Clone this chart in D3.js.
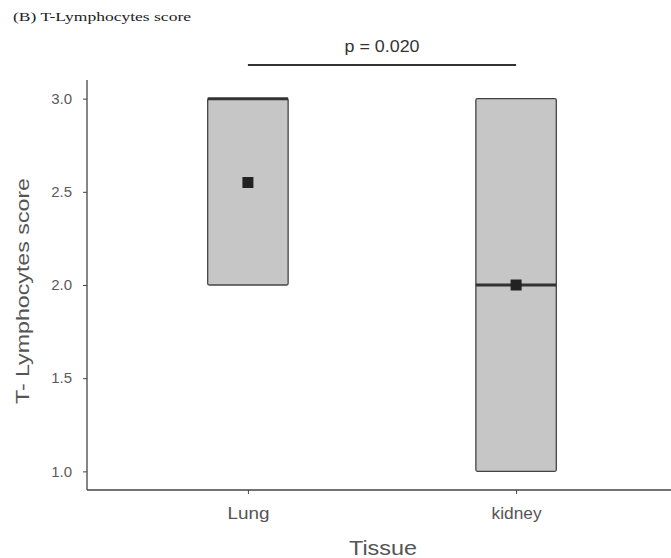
<!DOCTYPE html>
<html>
<head>
<meta charset="utf-8">
<script src="https://cdn.jsdelivr.net/npm/d3@7"></script>
<style>
  body { margin: 0; background: #fff; }
  svg { display: block; }
</style>
</head>
<body>
<div id="chart"></div>
<script>
// data
const tissues = ["Lung", "kidney"];
const q1 = [2.0, 1.0];
const medians = [3.0, 2.0];
const q3 = [3.0, 3.0];
const means = [2.55, 2.0];
const yTicks = [1.0, 1.5, 2.0, 2.5, 3.0];
const pLabel = "p = 0.020";

function main() {
    const width = 671;
    const height = 558;

    const svg = d3.select("#chart").append("svg")
        .attr("width", width)
        .attr("height", height)
        .style("font-family", "'Liberation Sans', Arial, sans-serif");

    // ggplot-like discrete scale: positions 1..n, 0.6 expansion each side
    const xScale = d3.scaleLinear()
        .domain([0.4, 2.6])
        .range([87, 677]);

    const yScale = d3.scaleLinear()
        .domain([0.9, 3.1])
        .range([490, 80]);

    const boxHalf = 0.15;

    // title
    svg.append("text")
        .attr("x", 13)
        .attr("y", 21)
        .attr("font-family", "'Liberation Serif', 'Times New Roman', serif")
        .attr("font-size", "13px")
        .attr("fill", "#222")
        .attr("textLength", 178)
        .attr("lengthAdjust", "spacingAndGlyphs")
        .text("(B) T-Lymphocytes score");

    // boxes
    const g = svg.append("g");
    tissues.forEach((t, i) => {
        const pos = i + 1;
        g.append("rect")
            .attr("x", xScale(pos - boxHalf))
            .attr("y", yScale(q3[i]))
            .attr("width", xScale(pos + boxHalf) - xScale(pos - boxHalf))
            .attr("height", yScale(q1[i]) - yScale(q3[i]))
            .attr("rx", 1.5)
            .attr("fill", "#c6c6c6")
            .attr("stroke", "#444")
            .attr("stroke-width", 1.3);

        g.append("line")
            .attr("x1", xScale(pos - boxHalf))
            .attr("x2", xScale(pos + boxHalf))
            .attr("y1", yScale(medians[i]))
            .attr("y2", yScale(medians[i]))
            .attr("stroke", "#333")
            .attr("stroke-width", 3);

        const s = 11;
        g.append("rect")
            .attr("x", xScale(pos) - s / 2)
            .attr("y", yScale(means[i]) - s / 2)
            .attr("width", s)
            .attr("height", s)
            .attr("fill", "#222");
    });

    // y axis
    const yAxis = svg.append("g")
        .attr("transform", "translate(87,0)")
        .call(d3.axisLeft(yScale)
            .tickValues(yTicks)
            .tickFormat(d3.format(".1f"))
            .tickSize(4)
            .tickPadding(11));
    yAxis.select(".domain").attr("d", "M0,80V490").attr("stroke", "#444").attr("stroke-width", 1.3);
    yAxis.selectAll(".tick line").attr("stroke", "#444");
    yAxis.selectAll(".tick text")
        .attr("font-size", "15px")
        .attr("fill", "#5a5a5a")
        .attr("font-family", "'Liberation Sans', Arial, sans-serif");

    // x axis
    const xLabelLen = [42, 50];
    const xAxis = svg.append("g")
        .attr("transform", "translate(0,490)")
        .call(d3.axisBottom(xScale)
            .tickValues([1, 2])
            .tickFormat((d) => tissues[d - 1])
            .tickSize(4)
            .tickPadding(14));
    xAxis.select(".domain").attr("d", "M87,0H677").attr("stroke", "#444").attr("stroke-width", 1.3);
    xAxis.selectAll(".tick line").attr("stroke", "#444");
    xAxis.selectAll(".tick text")
        .attr("font-size", "16px")
        .attr("fill", "#555")
        .attr("textLength", (d) => xLabelLen[d - 1])
        .attr("lengthAdjust", "spacingAndGlyphs")
        .attr("font-family", "'Liberation Sans', Arial, sans-serif");

    // axis titles
    svg.append("text")
        .attr("transform", "translate(29,291) rotate(-90)")
        .attr("text-anchor", "middle")
        .attr("font-size", "19px")
        .attr("fill", "#555")
        .attr("textLength", 226)
        .attr("lengthAdjust", "spacingAndGlyphs")
        .text("T- Lymphocytes score");

    svg.append("text")
        .attr("x", 383)
        .attr("y", 555)
        .attr("text-anchor", "middle")
        .attr("font-size", "20px")
        .attr("fill", "#555")
        .attr("textLength", 68)
        .attr("lengthAdjust", "spacingAndGlyphs")
        .text("Tissue");

    // significance bracket
    svg.append("line")
        .attr("x1", xScale(1))
        .attr("x2", xScale(2))
        .attr("y1", 65)
        .attr("y2", 65)
        .attr("stroke", "#333")
        .attr("stroke-width", 2);

    svg.append("text")
        .attr("x", (xScale(1) + xScale(2)) / 2)
        .attr("y", 52)
        .attr("text-anchor", "middle")
        .attr("font-size", "16px")
        .attr("fill", "#333")
        .attr("textLength", 75)
        .attr("lengthAdjust", "spacingAndGlyphs")
        .text(pLabel);
}
main();
</script>
</body>
</html>
